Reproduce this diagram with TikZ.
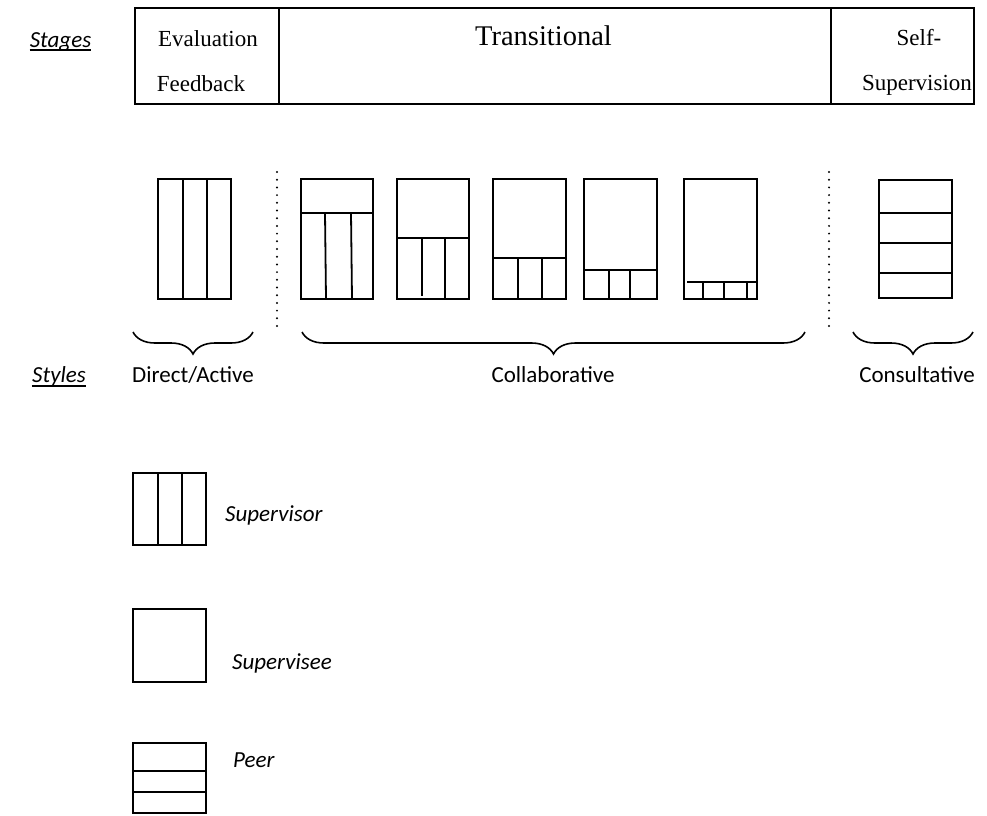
\documentclass[tikz,border=0pt]{standalone}
\usepackage{fontspec}
\setmainfont{Liberation Serif}
\newfontfamily\calfont{Carlito}
\usetikzlibrary{decorations.pathreplacing, positioning}

\begin{document}
\begin{tikzpicture}[x=1pt, y=-1pt,
        frame/.style={draw, line width=2pt},
        thin/.style={draw, line width=1.8pt},
        sep/.style={line width=2.2pt, dash pattern=on 0pt off 7.7pt, line cap=round},
        curly/.style={line width=1.6pt, decorate, decoration={brace, mirror, amplitude=22pt}},
        serif/.style={inner sep=0pt, anchor=base, font=\fontsize{23}{27}\selectfont},
        sans/.style={inner sep=0pt, anchor=base, font=\calfont\fontsize{23}{27}\selectfont},
        key/.style={inner sep=0pt, anchor=base west, font=\calfont\itshape\fontsize{23}{27}\selectfont}]
    \useasboundingbox (0,0) rectangle (987,815);

    % stages row
    \node[sans, font=\calfont\itshape\fontsize{23}{27}\selectfont] (stages) at (60.5,47) {Stages};
    \draw[line width=1.5pt] ([yshift=-3pt]stages.base west) -- ([yshift=-3pt]stages.base east);
    \draw[frame] (135,8) rectangle (974,104);
    \draw[frame] (279,8) -- (279,104);
    \draw[frame] (831,8) -- (831,104);
    \node[serif] (eval) at (208,46) {Evaluation};
    \node[serif] (feedback) at (201,91) {Feedback};
    \node[serif, font=\fontsize{28.5}{32}\selectfont] (transit) at (543.5,45) {Transitional};
    \node[serif] (self) at (919,45) {Self-};
    \node[serif] (supervision) at (917,90) {Supervision};

    % styles row
    \draw[frame] (158,179) rectangle (231,299);
    \foreach \x in {183,207} \draw[thin] (\x,179) -- (\x,299);

    \draw[sep] (277,172) -- (277,333);

    \draw[frame] (301,179) rectangle (373,299);
    \draw[thin] (301,213) -- (373,213);
    \draw[thin] (325,213) -- (326,299);
    \draw[thin] (351,213) -- (352,299);

    \draw[frame] (397,179) rectangle (469,299);
    \draw[thin] (397,238) -- (469,238);
    \draw[thin] (422,238) -- (422,296);
    \draw[thin] (445,238) -- (445,299);

    \draw[frame] (493,179) rectangle (566,299);
    \draw[thin] (493,258) -- (566,258);
    \foreach \x in {518,542} \draw[thin] (\x,258) -- (\x,299);

    \draw[frame] (584,179) rectangle (657,299);
    \draw[thin] (584,270) -- (657,270);
    \foreach \x in {609,630} \draw[thin] (\x,270) -- (\x,299);

    \draw[frame] (684,179) rectangle (757,299);
    \draw[thin] (687,282) -- (757,282);
    \foreach \x in {703,724,747} \draw[thin] (\x,282) -- (\x,299);

    \draw[sep] (829,172) -- (829,333);

    \draw[frame] (879,180) rectangle (952,298);
    \foreach \y in {213,243,273} \draw[thin] (879,\y) -- (952,\y);

    \draw[curly] (133,332) -- (253,332);
    \draw[curly] (302,332) -- (805,332);
    \draw[curly] (853,332) -- (973,332);

    \node[sans, font=\calfont\itshape\fontsize{23}{27}\selectfont] (styles) at (59,382) {Styles};
    \draw[line width=1.5pt] ([yshift=-4pt]styles.base west) -- ([yshift=-4pt]styles.base east);
    \node[sans] (direct) at (193,382) {Direct/Active};
    \node[sans] (collab) at (553,382) {Collaborative};
    \node[sans] (consult) at (917,382) {Consultative};

    % key
    \draw[frame] (133,473) rectangle (206,545);
    \foreach \x in {158,182} \draw[thin] (\x,473) -- (\x,545);
    \node[key] (supervisor) at (225,521) {Supervisor};

    \draw[frame] (133,609) rectangle (206,682);
    \node[key] (supervisee) at (232,669) {Supervisee};

    \draw[frame] (133,743) rectangle (206,813);
    \foreach \y in {771,792} \draw[thin] (133,\y) -- (206,\y);
    \node[key] (peer) at (233,767) {Peer};
\end{tikzpicture}
\end{document}
